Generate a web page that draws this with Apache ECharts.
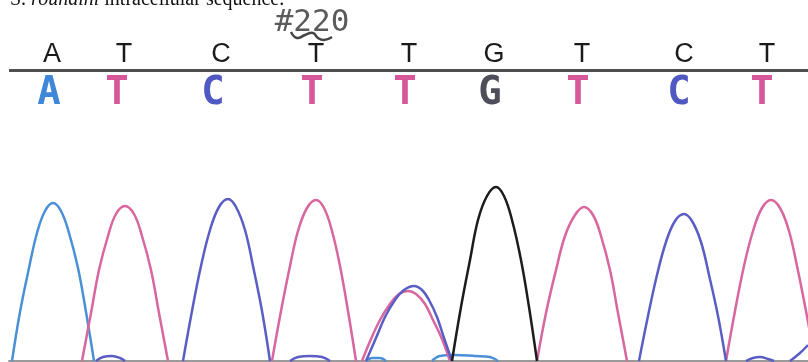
<!DOCTYPE html>
<html>
<head>
<meta charset="utf-8">
<script src="https://cdn.jsdelivr.net/npm/echarts@6/dist/echarts.min.js"></script>
<style>
  html, body { margin: 0; padding: 0; background: #fff; }
  #chart { width: 808px; height: 362px; }
</style>
</head>
<body>
<div id="chart"></div>
<script>
// base calls and where they sit along the scan
const baseCalls = ['A', 'T', 'C', 'T', 'T', 'G', 'T', 'C', 'T']
const callX = [52, 124, 221, 316, 409, 494, 582, 684, 767]
const colorCallX = [49, 117, 213, 312, 405, 490, 578, 679, 762]

// trace samples: [scan, intensity], null = gap
const traceA = [
  [12, 0], [20, 49], [29, 93], [37, 128], [45, 150], [53, 158], [61, 150], [69, 128], [78, 93], [86, 49], [94, 0],
  [200, null],
  [366, 0], [372, 3], [380, 3], [386, 0],
  [410, null],
  [432, 0], [440, 5], [455, 6], [475, 5], [490, 4], [498, 0]
]
const traceT = [
  [82, 0], [91, 48], [99, 91], [108, 125], [116, 147], [125, 155], [134, 147], [142, 125], [151, 91], [159, 48], [168, 0],
  [220, null],
  [272, 0], [281, 50], [290, 95], [298, 130], [307, 153], [316, 161], [324, 153], [332, 130], [340, 95], [348, 50], [356, 0],
  [359, null],
  [362, 0], [371, 22], [380, 41], [390, 57], [399, 67], [408, 70], [416, 67], [425, 57], [433, 41], [442, 22], [450, 0],
  [500, null],
  [537, 0], [546, 48], [556, 91], [565, 125], [575, 146], [584, 154], [593, 146], [601, 125], [610, 91], [618, 48], [627, 0],
  [680, null],
  [726, 0], [735, 50], [744, 95], [753, 130], [762, 153], [771, 161], [780, 153], [789, 130], [797, 95], [806, 50], [815, 0]
]
const traceC = [
  [96, 0], [103, 4], [112, 5], [120, 3], [125, 0],
  [150, null],
  [183, 0], [192, 50], [201, 95], [210, 131], [219, 154], [228, 162], [236, 154], [245, 131], [253, 95], [262, 50], [270, 0],
  [280, null],
  [290, 0], [298, 4], [310, 5], [322, 4], [330, 0],
  [350, null],
  [366, 0], [376, 23], [385, 44], [395, 61], [404, 71], [414, 75], [422, 71], [429, 61], [437, 44], [444, 23], [452, 0],
  [600, null],
  [639, 0], [648, 45], [657, 86], [666, 119], [675, 140], [684, 147], [692, 140], [701, 119], [709, 86], [718, 45], [726, 0],
  [740, null],
  [746, 0], [753, 3], [760, 4], [768, 2], [774, 0],
  [782, null],
  [790, 0], [800, 8], [808, 16]
]
const traceG = [
  [452, 0], [461, 54], [470, 101], [478, 141], [487, 165], [496, 174], [504, 165], [512, 141], [521, 101], [529, 54], [537, 0]
]

const baseColors = { A: '#3f87d8', T: '#d6589a', C: '#5058c2', G: '#4e4e5a' }
const traceColors = { A: '#4a90d8', T: '#d8669f', C: '#5a5ec4', G: '#1c1c1c' }

const chart = echarts.init(document.getElementById('chart'))

const traceSeries = (data, base) => ({
  type: 'line',
  data: data,
  smooth: 0.4,
  showSymbol: false,
  connectNulls: false,
  lineStyle: { width: 2.5, color: traceColors[base] },
  z: 3
})

chart.setOption({
  animation: false,
  grid: { left: 9, right: 0, top: 0, bottom: 1 },
  xAxis: {
    type: 'value', min: 9, max: 808,
    axisLine: { show: true, onZero: false, lineStyle: { color: '#9a9a9a', width: 2 } },
    axisTick: { show: false }, axisLabel: { show: false }, splitLine: { show: false }
  },
  yAxis: {
    type: 'value', min: 0, max: 361, show: false, splitLine: { show: false }
  },
  graphic: [
    {
      type: 'text', x: 10, y: 0,
      style: {
        text: 'S. {i|rouhaini} intracellular sequence.',
        font: '20px "Liberation Serif"', fill: '#111', verticalAlign: 'middle',
        rich: { i: { fontStyle: 'italic', fontFamily: 'Liberation Serif', fontSize: 20 } }
      }
    },
    {
      type: 'text', x: 312, y: 23,
      style: {
        text: '#220', font: '31px "DejaVu Sans Mono"', fill: '#5a5a5a',
        align: 'center', verticalAlign: 'middle'
      }
    },
    {
      type: 'polyline',
      shape: { points: [[291, 32], [297, 38], [305, 35], [313, 33], [318, 38], [324, 40], [332, 37]], smooth: 0.5 },
      style: { stroke: '#444', lineWidth: 2.5, fill: null }
    },
    {
      type: 'line', shape: { x1: 9, y1: 70.5, x2: 808, y2: 70.5 },
      style: { stroke: '#505050', lineWidth: 3 }
    }
  ],
  series: [
    traceSeries(traceA, 'A'),
    traceSeries(traceT, 'T'),
    traceSeries(traceC, 'C'),
    traceSeries(traceG, 'G'),
    {
      type: 'scatter',
      symbolSize: 1,
      itemStyle: { color: 'rgba(0,0,0,0)' },
      data: baseCalls.map((b, i) => [callX[i], 306, b]),
      label: {
        show: true, position: 'inside', formatter: p => p.value[2],
        fontFamily: 'Liberation Sans', fontSize: 27, color: '#1a1a1a',
        textBorderWidth: 0, opacity: 1
      },
      z: 5
    },
    {
      type: 'scatter',
      symbolSize: 1,
      itemStyle: { color: 'rgba(0,0,0,0)' },
      data: baseCalls.map((b, i) => ({
        value: [colorCallX[i], 267, b],
        label: { color: baseColors[b] }
      })),
      label: {
        show: true, position: 'inside', formatter: p => p.value[2],
        fontFamily: 'DejaVu Sans Mono', fontWeight: 'bold', fontSize: 39,
        textBorderWidth: 0, opacity: 1
      },
      z: 5
    }
  ]
})
</script>
</body>
</html>
